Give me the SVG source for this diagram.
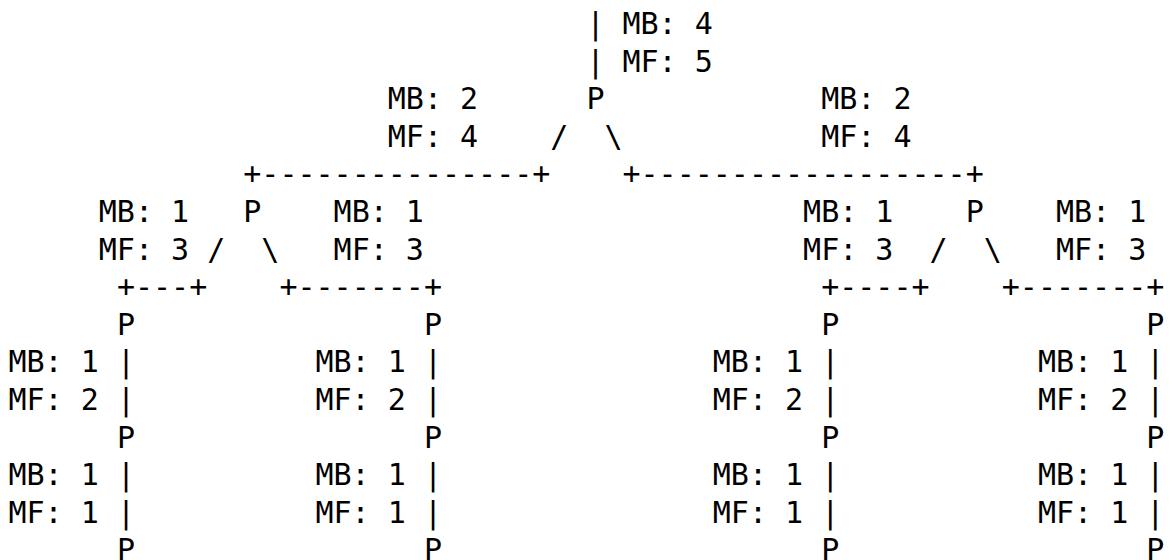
<svg xmlns="http://www.w3.org/2000/svg" width="1173" height="560" viewBox="0 0 1173 560">
<style>
text { font-family: "DejaVu Sans Mono", "Liberation Mono", monospace; font-size: 30px; fill: #000; }
</style>
<rect width="1173" height="560" fill="#fff"/>
<g id="connectors">
  <text x="586.4" y="34">|</text>
  <text x="586.4" y="71.6">|</text>
  <text x="550.3" y="146.8">/</text>
  <text x="604.5" y="146.8">\</text>
  <text x="243.3" y="184.4">+---------------+</text>
  <text x="622.5" y="184.4">+------------------+</text>
  <text x="207.2" y="259.6">/</text>
  <text x="261.3" y="259.6">\</text>
  <text x="929.6" y="259.6">/</text>
  <text x="983.7" y="259.6">\</text>
  <text x="116.9" y="297.2">+---+</text>
  <text x="279.4" y="297.2">+-------+</text>
  <text x="821.2" y="297.2">+----+</text>
  <text x="1001.8" y="297.2">+-------+</text>
  <text x="116.9" y="372.4">|</text>
  <text x="423.9" y="372.4">|</text>
  <text x="821.2" y="372.4">|</text>
  <text x="1146.3" y="372.4">|</text>
  <text x="116.9" y="410">|</text>
  <text x="423.9" y="410">|</text>
  <text x="821.2" y="410">|</text>
  <text x="1146.3" y="410">|</text>
  <text x="116.9" y="485.2">|</text>
  <text x="423.9" y="485.2">|</text>
  <text x="821.2" y="485.2">|</text>
  <text x="1146.3" y="485.2">|</text>
  <text x="116.9" y="522.8">|</text>
  <text x="423.9" y="522.8">|</text>
  <text x="821.2" y="522.8">|</text>
  <text x="1146.3" y="522.8">|</text>
</g>
<g id="labels">
  <text x="622.5" y="34">MB: 4</text>
  <text x="622.5" y="71.6">MF: 5</text>
  <text x="387.8" y="109.2">MB: 2</text>
  <text x="387.8" y="146.8">MF: 4</text>
  <text x="821.2" y="109.2">MB: 2</text>
  <text x="821.2" y="146.8">MF: 4</text>
  <text x="98.8" y="222">MB: 1</text>
  <text x="98.8" y="259.6">MF: 3</text>
  <text x="333.6" y="222">MB: 1</text>
  <text x="333.6" y="259.6">MF: 3</text>
  <text x="803.1" y="222">MB: 1</text>
  <text x="803.1" y="259.6">MF: 3</text>
  <text x="1056" y="222">MB: 1</text>
  <text x="1056" y="259.6">MF: 3</text>
  <text x="8.5" y="372.4">MB: 1</text>
  <text x="8.5" y="410">MF: 2</text>
  <text x="8.5" y="485.2">MB: 1</text>
  <text x="8.5" y="522.8">MF: 1</text>
  <text x="315.5" y="372.4">MB: 1</text>
  <text x="315.5" y="410">MF: 2</text>
  <text x="315.5" y="485.2">MB: 1</text>
  <text x="315.5" y="522.8">MF: 1</text>
  <text x="712.8" y="372.4">MB: 1</text>
  <text x="712.8" y="410">MF: 2</text>
  <text x="712.8" y="485.2">MB: 1</text>
  <text x="712.8" y="522.8">MF: 1</text>
  <text x="1037.9" y="372.4">MB: 1</text>
  <text x="1037.9" y="410">MF: 2</text>
  <text x="1037.9" y="485.2">MB: 1</text>
  <text x="1037.9" y="522.8">MF: 1</text>
</g>
<g id="node-root"><text x="586.4" y="109.2">P</text></g>
<g id="node-l"><text x="243.3" y="222">P</text></g>
<g id="node-r"><text x="965.7" y="222">P</text></g>
<g id="node-ll"><text x="116.9" y="334.8">P</text></g>
<g id="node-lr"><text x="423.9" y="334.8">P</text></g>
<g id="node-rl"><text x="821.2" y="334.8">P</text></g>
<g id="node-rr"><text x="1146.3" y="334.8">P</text></g>
<g id="node-ll2"><text x="116.9" y="447.6">P</text></g>
<g id="node-lr2"><text x="423.9" y="447.6">P</text></g>
<g id="node-rl2"><text x="821.2" y="447.6">P</text></g>
<g id="node-rr2"><text x="1146.3" y="447.6">P</text></g>
<g id="node-ll3"><text x="116.9" y="560.4">P</text></g>
<g id="node-lr3"><text x="423.9" y="560.4">P</text></g>
<g id="node-rl3"><text x="821.2" y="560.4">P</text></g>
<g id="node-rr3"><text x="1146.3" y="560.4">P</text></g>
</svg>
